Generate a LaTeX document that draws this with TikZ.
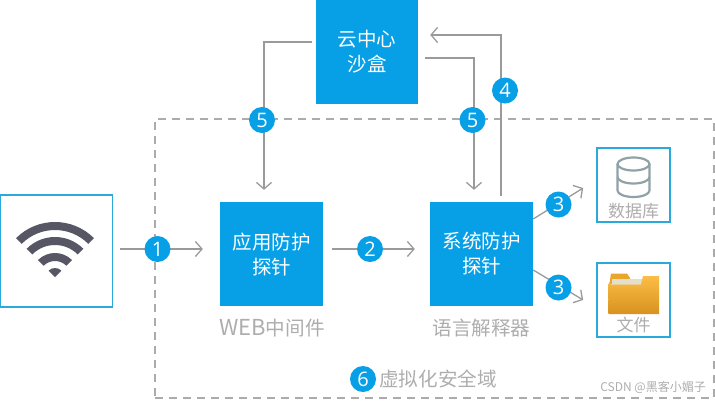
\documentclass[tikz,border=0pt]{standalone}
\usepackage{fontspec}
\usetikzlibrary{arrows.meta,shadings}
\newfontfamily\cjk{Noto Sans CJK SC}
\newfontfamily\digitfont{Open Sans}
\definecolor{bluefill}{HTML}{079FE5}
\definecolor{framecol}{HTML}{2BA8DC}
\definecolor{linecol}{HTML}{9A9A9A}
\definecolor{dashcol}{HTML}{ABABAB}
\definecolor{captcol}{HTML}{ADADAD}
\definecolor{wificol}{HTML}{565665}
\definecolor{dbcol}{HTML}{8FA2A6}
\definecolor{foldertop}{HTML}{FBBD45}
\definecolor{folderbot}{HTML}{D8921F}
\definecolor{foldertab}{HTML}{E9A52C}
\definecolor{folderpaper}{HTML}{E4DFC8}
\tikzset{
  x=1pt,y=-1pt,
  bluebox/.style={fill=bluefill,inner sep=0pt,minimum width=103pt,minimum height=104pt,text=white,align=center,font=\cjk\fontsize{19.5}{25}\selectfont},
  framebox/.style={draw=framecol,line width=1.6pt,fill=white,inner sep=0pt,minimum width=73pt,minimum height=74pt},
  conn/.style={draw=linecol,line width=1.3pt,-{Straight Barb[length=6.5pt,width=15pt,line width=1.3pt]}},
  badge/.style={circle,fill=bluefill,text=white,inner sep=0pt,minimum size=26pt,font=\digitfont\fontsize{20}{20}\selectfont},
  caption/.style={text=captcol,inner sep=0pt,font=\cjk\fontsize{19.6}{22}\selectfont},
  smallcap/.style={text=captcol,inner sep=0pt,font=\cjk\fontsize{17}{20}\selectfont},
}
\begin{document}
\begin{tikzpicture}
\useasboundingbox (0,0) rectangle (715,400);
\node[draw=dashcol,line width=1.5pt,dash pattern=on 8pt off 6pt,inner sep=0pt,minimum width=559pt,minimum height=279pt] (zone) at (434.5,258.5) {};
\node[framebox,minimum width=112pt,minimum height=112pt] (wifi) at (56.5,251) {};
\node[framebox] (dbox) at (633.5,185) {};
\node[framebox] (filebox) at (633.5,300) {};
\node[bluebox,minimum width=102pt] (cloud) at (367,52) {云中心\\沙盒};
\node[bluebox] (app) at (271.5,254) {应用防护\\探针};
\node[bluebox] (sys) at (481.5,254) {系统防护\\探针};

% wifi icon
\begin{scope}[shift={(55,277)},y=1pt]
  \fill[wificol] (45:55) arc (45:135:55) -- (135:47) arc (135:45:47) -- cycle;
  \fill[wificol] (45:40) arc (45:135:40) -- (135:32) arc (135:45:32) -- cycle;
  \fill[wificol] (45:24) arc (45:135:24) -- (135:16) arc (135:45:16) -- cycle;
  \fill[wificol] (45:9) arc (45:135:9) -- (0,0) -- cycle;
\end{scope}

% database icon
\begin{scope}[draw=dbcol,line width=2.2pt]
  \draw (633.5,164) ellipse [x radius=16,y radius=6.5];
  \draw (617.5,164) -- (617.5,190.5) arc [start angle=180,end angle=0,x radius=16,y radius=6.5] -- (649.5,164);
  \draw (617.5,177) arc [start angle=180,end angle=0,x radius=16,y radius=6.5];
\end{scope}

% folder icon
\fill[foldertab] (610,280) -- (611,273.5) -- (627,273.5) -- (630,278) -- (630,284) -- (610,284) -- cycle;
\fill[folderpaper] (612,279) rectangle (642,285);
\shade[top color=foldertop,bottom color=folderbot]
  (608.5,314) -- (608,285) -- (610,281) -- (611,284.5) -- (641,284.5) -- (643,276) -- (659,276) -- (659,314) -- cycle;

% connectors
\draw[conn] ([shift={(7,-2)}]wifi.east) -- ([shift={(-17,-5)}]app.west);
\draw[conn] ([shift={(9,-5)}]app.east) -- ([shift={(-15,-5)}]sys.west);
\draw[conn] ([shift={(-4,-10)}]cloud.west) -| ([shift={(-7.5,-12)}]app.north);
\draw[conn] ([shift={(7,6)}]cloud.east) -| ([shift={(-7.5,-12)}]sys.north);
\draw[conn] ([shift={(19.5,-6)}]sys.north) |- ([shift={(12,-17)}]cloud.east);
\draw[conn] ([shift={(0,-35)}]sys.east) -- ([shift={(-13,3)}]dbox.west);
\draw[conn] ([shift={(0,16)}]sys.east) -- ([shift={(-13,0)}]filebox.west);

% badges
\node[badge] (b1) at (157.5,249) {1};
\node[badge] (b2) at (370,249) {2};
\node[badge] (b3a) at (558.5,204.5) {3};
\node[badge] (b3b) at (558.5,287.5) {3};
\node[badge] (b4) at (505,90.5) {4};
\node[badge] (b5a) at (262,120) {5};
\node[badge] (b5b) at (472.5,120) {5};
\node[badge] (b6) at (363,379) {6};

% captions
\node[caption,font=\cjk\fontsize{22}{22}\selectfont] (capweb) at (272,328) {WEB\fontsize{19.6}{22}\selectfont 中间件};
\node[caption] (caplang) at (481.5,328) {语言解释器};
\node[caption,anchor=west] (capzone) at (379,379) {虚拟化安全域};
\node[smallcap] (capdb) at (633.5,211) {数据库};
\node[smallcap] (capfile) at (633.5,325) {文件};
\node[anchor=east,text=captcol,inner sep=0pt,font=\cjk\fontsize{12}{14}\selectfont] (mark) at (706,387) {CSDN @黑客小媚子};
\end{tikzpicture}
\end{document}
